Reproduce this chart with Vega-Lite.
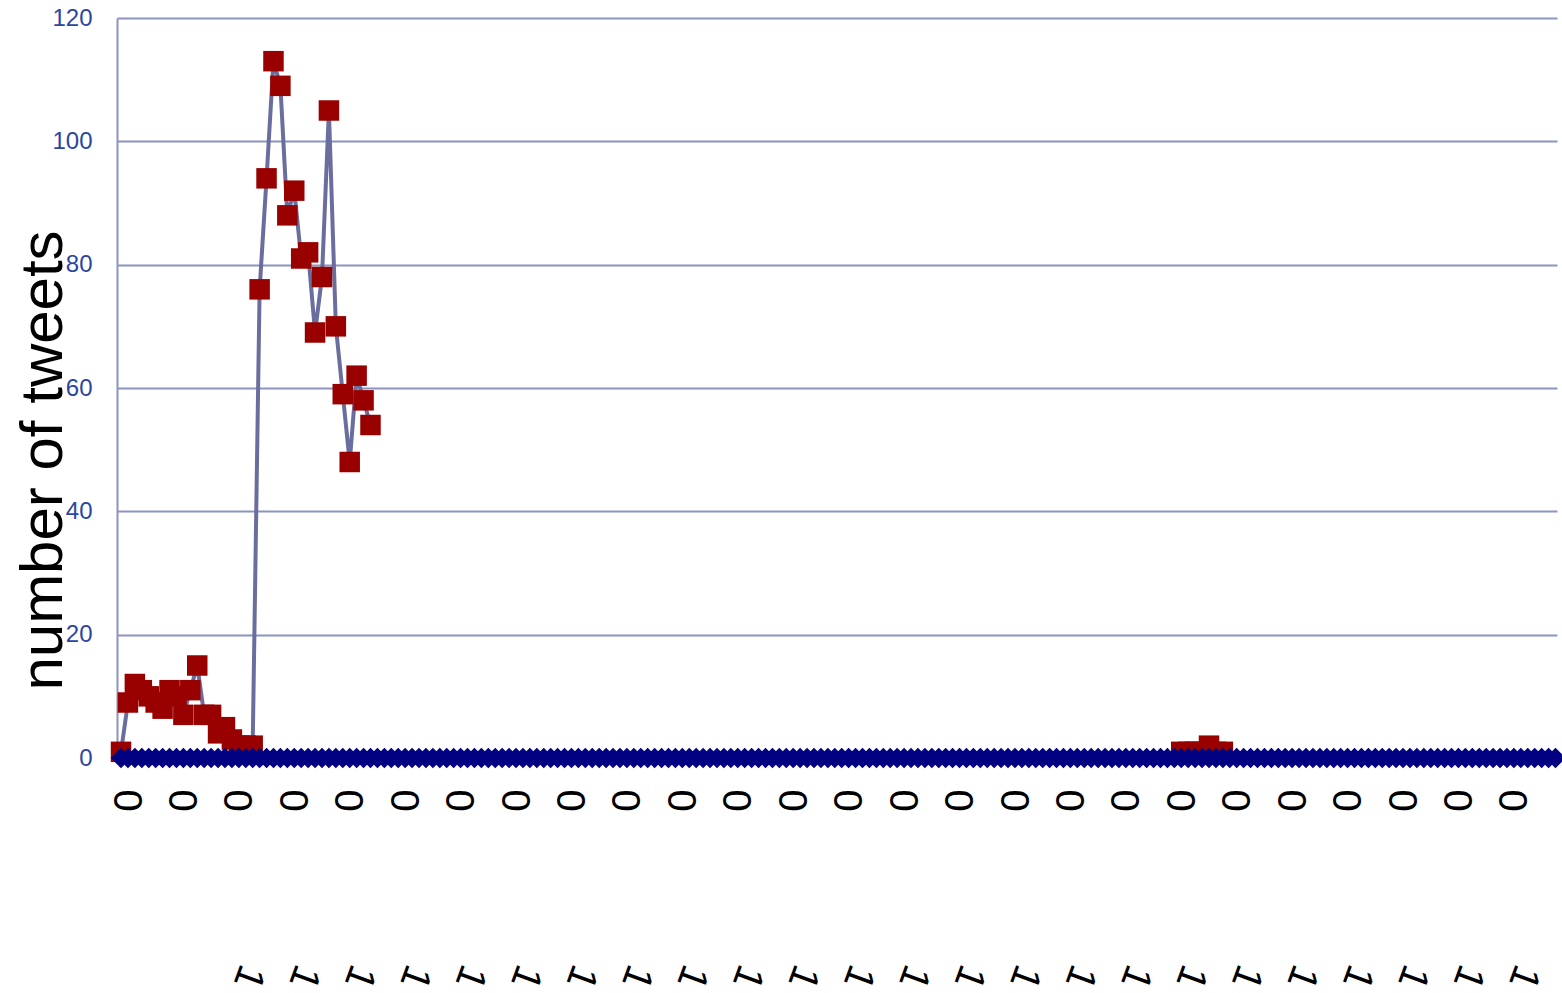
{
  "$schema": "https://vega.github.io/schema/vega-lite/v6.json",
  "width": 1440,
  "height": 740,
  "autosize": {"type": "none"},
  "padding": {"left": 117, "top": 18, "right": 5, "bottom": 235},
  "background": "white",
  "config": {"font": "Liberation Sans", "view": {"stroke": null}},
  "datasets": {
    "tweets": [
      {"i":0,"v":1},{"i":1,"v":9},{"i":2,"v":12},{"i":3,"v":11},{"i":4,"v":10},{"i":5,"v":9},{"i":6,"v":8},{"i":7,"v":11},{"i":8,"v":10},{"i":9,"v":7},
      {"i":10,"v":11},{"i":11,"v":15},{"i":12,"v":7},{"i":13,"v":7},{"i":14,"v":4},{"i":15,"v":5},{"i":16,"v":3},{"i":17,"v":2},{"i":18,"v":2},{"i":19,"v":2},
      {"i":20,"v":76},{"i":21,"v":94},{"i":22,"v":113},{"i":23,"v":109},{"i":24,"v":88},{"i":25,"v":92},{"i":26,"v":81},{"i":27,"v":82},{"i":28,"v":69},{"i":29,"v":78},
      {"i":30,"v":105},{"i":31,"v":70},{"i":32,"v":59},{"i":33,"v":48},{"i":34,"v":62},{"i":35,"v":58},{"i":36,"v":54},
      {"i":90,"v":null},
      {"i":153,"v":1},{"i":154,"v":1},{"i":155,"v":1},{"i":156,"v":1},{"i":157,"v":2},{"i":158,"v":1},{"i":159,"v":1}
    ],
    "baseline": [
      {"i":0,"v":0},{"i":1,"v":0},{"i":2,"v":0},{"i":3,"v":0},{"i":4,"v":0},{"i":5,"v":0},{"i":6,"v":0},{"i":7,"v":0},{"i":8,"v":0},{"i":9,"v":0},
      {"i":10,"v":0},{"i":11,"v":0},{"i":12,"v":0},{"i":13,"v":0},{"i":14,"v":0},{"i":15,"v":0},{"i":16,"v":0},{"i":17,"v":0},{"i":18,"v":0},{"i":19,"v":0},
      {"i":20,"v":0},{"i":21,"v":0},{"i":22,"v":0},{"i":23,"v":0},{"i":24,"v":0},{"i":25,"v":0},{"i":26,"v":0},{"i":27,"v":0},{"i":28,"v":0},{"i":29,"v":0},
      {"i":30,"v":0},{"i":31,"v":0},{"i":32,"v":0},{"i":33,"v":0},{"i":34,"v":0},{"i":35,"v":0},{"i":36,"v":0},{"i":37,"v":0},{"i":38,"v":0},{"i":39,"v":0},
      {"i":40,"v":0},{"i":41,"v":0},{"i":42,"v":0},{"i":43,"v":0},{"i":44,"v":0},{"i":45,"v":0},{"i":46,"v":0},{"i":47,"v":0},{"i":48,"v":0},{"i":49,"v":0},
      {"i":50,"v":0},{"i":51,"v":0},{"i":52,"v":0},{"i":53,"v":0},{"i":54,"v":0},{"i":55,"v":0},{"i":56,"v":0},{"i":57,"v":0},{"i":58,"v":0},{"i":59,"v":0},
      {"i":60,"v":0},{"i":61,"v":0},{"i":62,"v":0},{"i":63,"v":0},{"i":64,"v":0},{"i":65,"v":0},{"i":66,"v":0},{"i":67,"v":0},{"i":68,"v":0},{"i":69,"v":0},
      {"i":70,"v":0},{"i":71,"v":0},{"i":72,"v":0},{"i":73,"v":0},{"i":74,"v":0},{"i":75,"v":0},{"i":76,"v":0},{"i":77,"v":0},{"i":78,"v":0},{"i":79,"v":0},
      {"i":80,"v":0},{"i":81,"v":0},{"i":82,"v":0},{"i":83,"v":0},{"i":84,"v":0},{"i":85,"v":0},{"i":86,"v":0},{"i":87,"v":0},{"i":88,"v":0},{"i":89,"v":0},
      {"i":90,"v":0},{"i":91,"v":0},{"i":92,"v":0},{"i":93,"v":0},{"i":94,"v":0},{"i":95,"v":0},{"i":96,"v":0},{"i":97,"v":0},{"i":98,"v":0},{"i":99,"v":0},
      {"i":100,"v":0},{"i":101,"v":0},{"i":102,"v":0},{"i":103,"v":0},{"i":104,"v":0},{"i":105,"v":0},{"i":106,"v":0},{"i":107,"v":0},{"i":108,"v":0},{"i":109,"v":0},
      {"i":110,"v":0},{"i":111,"v":0},{"i":112,"v":0},{"i":113,"v":0},{"i":114,"v":0},{"i":115,"v":0},{"i":116,"v":0},{"i":117,"v":0},{"i":118,"v":0},{"i":119,"v":0},
      {"i":120,"v":0},{"i":121,"v":0},{"i":122,"v":0},{"i":123,"v":0},{"i":124,"v":0},{"i":125,"v":0},{"i":126,"v":0},{"i":127,"v":0},{"i":128,"v":0},{"i":129,"v":0},
      {"i":130,"v":0},{"i":131,"v":0},{"i":132,"v":0},{"i":133,"v":0},{"i":134,"v":0},{"i":135,"v":0},{"i":136,"v":0},{"i":137,"v":0},{"i":138,"v":0},{"i":139,"v":0},
      {"i":140,"v":0},{"i":141,"v":0},{"i":142,"v":0},{"i":143,"v":0},{"i":144,"v":0},{"i":145,"v":0},{"i":146,"v":0},{"i":147,"v":0},{"i":148,"v":0},{"i":149,"v":0},
      {"i":150,"v":0},{"i":151,"v":0},{"i":152,"v":0},{"i":153,"v":0},{"i":154,"v":0},{"i":155,"v":0},{"i":156,"v":0},{"i":157,"v":0},{"i":158,"v":0},{"i":159,"v":0},
      {"i":160,"v":0},{"i":161,"v":0},{"i":162,"v":0},{"i":163,"v":0},{"i":164,"v":0},{"i":165,"v":0},{"i":166,"v":0},{"i":167,"v":0},{"i":168,"v":0},{"i":169,"v":0},
      {"i":170,"v":0},{"i":171,"v":0},{"i":172,"v":0},{"i":173,"v":0},{"i":174,"v":0},{"i":175,"v":0},{"i":176,"v":0},{"i":177,"v":0},{"i":178,"v":0},{"i":179,"v":0},
      {"i":180,"v":0},{"i":181,"v":0},{"i":182,"v":0},{"i":183,"v":0},{"i":184,"v":0},{"i":185,"v":0},{"i":186,"v":0},{"i":187,"v":0},{"i":188,"v":0},{"i":189,"v":0},
      {"i":190,"v":0},{"i":191,"v":0},{"i":192,"v":0},{"i":193,"v":0},{"i":194,"v":0},{"i":195,"v":0},{"i":196,"v":0},{"i":197,"v":0},{"i":198,"v":0},{"i":199,"v":0},
      {"i":200,"v":0},{"i":201,"v":0},{"i":202,"v":0},{"i":203,"v":0},{"i":204,"v":0},{"i":205,"v":0},{"i":206,"v":0},{"i":207,"v":0}
    ]
  },
  "resolve": {"axis": {"x": "independent"}},
  "layer": [
    {
      "data": {"name": "tweets"},
      "mark": {"type": "line", "color": "#6A6E9F", "strokeWidth": 4, "invalid": "break-paths-show-domains"},
      "encoding": {
        "x": {"field": "i", "type": "quantitative",
          "scale": {"domain": [-0.58, 207.22], "nice": false, "zero": false},
          "axis": {"values": [0,8,16,24,32,40,48,56,64,72,80,88,96,104,112,120,128,136,144,152,160,168,176,184,192,200],
            "labelExpr": "'0'", "labelAngle": 90, "labelFontSize": 40, "labelColor": "#000000",
            "labelPadding": 31, "labelOffset": 4, "labelFlush": false, "labelOverlap": false, "ticks": false, "grid": false,
            "domainColor": "#8C94C0", "domainWidth": 2, "title": null}},
        "y": {"field": "v", "type": "quantitative",
          "scale": {"domain": [0, 120], "nice": false},
          "axis": {"values": [0,20,40,60,80,100,120], "labelFontSize": 24, "labelColor": "#2A46A0",
            "labelPadding": 25, "ticks": false, "grid": true, "gridColor": "#8C94C0", "gridWidth": 2,
            "domainColor": "#8C94C0", "domainWidth": 2,
            "title": "number of tweets", "titleFontSize": 60, "titleFontWeight": "normal", "titleColor": "#000000",
            "titleAngle": -90, "titleAlign": "center", "titleBaseline": "alphabetic", "titleX": -56, "titleY": 442}}
      }
    },
    {
      "data": {"name": "tweets"},
      "mark": {"type": "point", "shape": "square", "filled": true, "size": 420, "color": "#990000", "opacity": 1},
      "encoding": {
        "x": {"field": "i", "type": "quantitative",
          "axis": {"orient": "bottom", "values": [16,24,32,40,48,56,64,72,80,88,96,104,112,120,128,136,144,152,160,168,176,184,192,200],
            "labelExpr": "'1'", "labelAngle": 110, "labelFontSize": 40, "labelColor": "#000000",
            "labelPadding": 208, "labelOffset": 20, "labelFlush": false, "labelOverlap": false, "ticks": false, "grid": false,
            "domain": false, "title": null}},
        "y": {"field": "v", "type": "quantitative",
          "axis": {"values": [0,20,40,60,80,100,120], "labelFontSize": 24, "labelColor": "#2A46A0",
            "labelPadding": 25, "ticks": false, "grid": true, "gridColor": "#8C94C0", "gridWidth": 2,
            "domainColor": "#8C94C0", "domainWidth": 2,
            "title": "number of tweets", "titleFontSize": 60, "titleFontWeight": "normal", "titleColor": "#000000",
            "titleAngle": -90, "titleAlign": "center", "titleBaseline": "alphabetic", "titleX": -56, "titleY": 442}}
      }
    },
    {
      "data": {"name": "baseline"},
      "mark": {"type": "line", "color": "#000080", "strokeWidth": 3},
      "encoding": {
        "x": {"field": "i", "type": "quantitative", "axis": null},
        "y": {"field": "v", "type": "quantitative",
          "axis": {"values": [0,20,40,60,80,100,120], "labelFontSize": 24, "labelColor": "#2A46A0",
            "labelPadding": 25, "ticks": false, "grid": true, "gridColor": "#8C94C0", "gridWidth": 2,
            "domainColor": "#8C94C0", "domainWidth": 2,
            "title": "number of tweets", "titleFontSize": 60, "titleFontWeight": "normal", "titleColor": "#000000",
            "titleAngle": -90, "titleAlign": "center", "titleBaseline": "alphabetic", "titleX": -56, "titleY": 442}}
      }
    },
    {
      "data": {"name": "baseline"},
      "mark": {"type": "point", "shape": "diamond", "filled": true, "size": 420, "color": "#000080", "opacity": 1},
      "encoding": {
        "x": {"field": "i", "type": "quantitative", "axis": null},
        "y": {"field": "v", "type": "quantitative",
          "axis": {"values": [0,20,40,60,80,100,120], "labelFontSize": 24, "labelColor": "#2A46A0",
            "labelPadding": 25, "ticks": false, "grid": true, "gridColor": "#8C94C0", "gridWidth": 2,
            "domainColor": "#8C94C0", "domainWidth": 2,
            "title": "number of tweets", "titleFontSize": 60, "titleFontWeight": "normal", "titleColor": "#000000",
            "titleAngle": -90, "titleAlign": "center", "titleBaseline": "alphabetic", "titleX": -56, "titleY": 442}}
      }
    }
  ]
}
